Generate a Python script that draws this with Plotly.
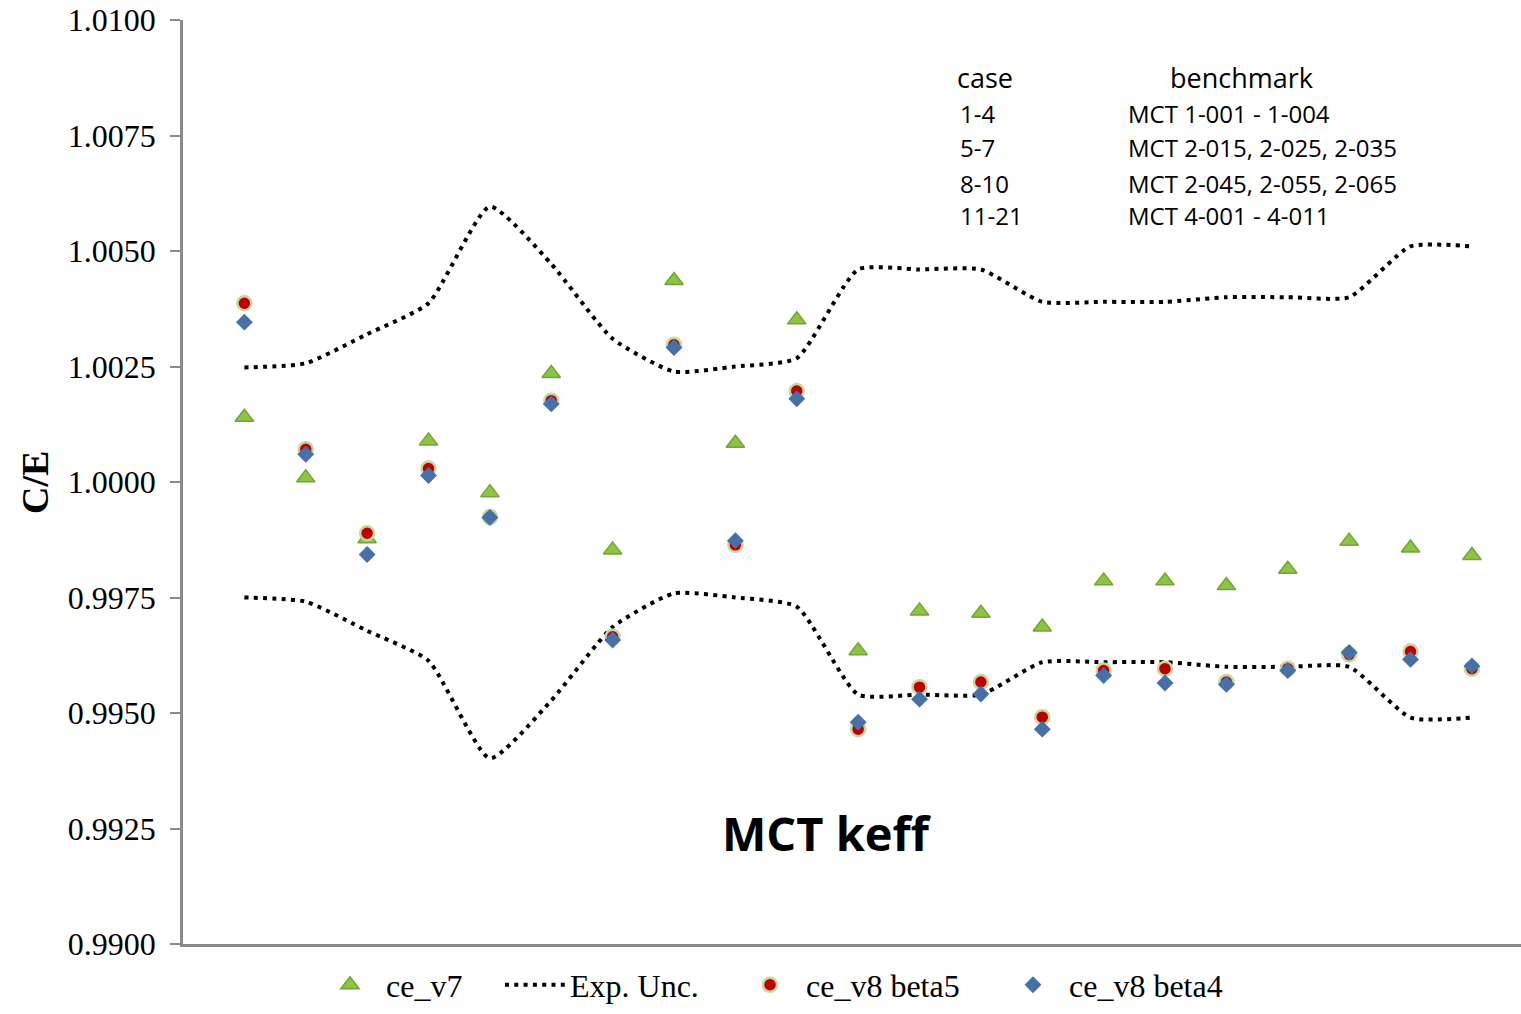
import plotly.graph_objects as go

# Case numbers (MCT benchmark cases)
cases = list(range(1, 22))

# Calculated / experimental keff ratios
ce_v7 = [1.00140, 1.00009, 0.99877, 1.00089, 0.99977, 1.00235, 0.99853,
         1.00436, 1.00084, 1.00351, 0.99635, 0.99721, 0.99716, 0.99686,
         0.99786, 0.99786, 0.99776, 0.99811, 0.99872, 0.99857, 0.99841]

ce_v8_beta5 = [1.00387, 1.00071, 0.99889, 1.00029, 0.99924, 1.00176, 0.99665,
               1.00297, 0.99864, 1.00197, 0.99465, 0.99556, 0.99567, 0.99491,
               0.99592, 0.99596, 0.99567, 0.99596, 0.99627, 0.99633, 0.99596]

ce_v8_beta4 = [1.00346, 1.00060, 0.99843, 1.00014, 0.99923, 1.00169, 0.99658,
               1.00291, 0.99873, 1.00180, 0.99480, 0.99530, 0.99541, 0.99465,
               0.99581, 0.99565, 0.99562, 0.99592, 0.99631, 0.99616, 0.99602]

# Experimental uncertainty band (upper / lower bound)
exp_upper = [1.00248, 1.00257, 1.00320, 1.00387, 1.00596, 1.00472, 1.00310,
             1.00239, 1.00250, 1.00268, 1.00460, 1.00460, 1.00460, 1.00390,
             1.00390, 1.00390, 1.00400, 1.00400, 1.00400, 1.00510, 1.00510]
exp_lower = [0.99750, 0.99741, 0.99678, 0.99613, 0.99402, 0.99527, 0.99686,
             0.99759, 0.99750, 0.99730, 0.99540, 0.99540, 0.99540, 0.99610,
             0.99610, 0.99610, 0.99600, 0.99600, 0.99600, 0.99490, 0.99490]

# Benchmark table text
table_cases = ["1-4", "5-7", "8-10", "11-21"]
table_benchmarks = ["MCT 1-001 - 1-004", "MCT 2-015, 2-025, 2-035",
                    "MCT 2-045, 2-055, 2-065", "MCT 4-001 - 4-011"]

W, H = 1521, 1014
L, R, T, B = 183, 0, 20, 70
PW, PH = W - L - R, H - T - B


def px(x):
    return (x - L) / PW


def py(y):
    return (H - B - y) / PH


SERIF = "Liberation Serif, Times New Roman, serif"
SANS = "Open Sans, sans-serif"

dot_style = dict(color="black", width=4, dash="4px,5.3px", shape="spline", smoothing=0.55)

fig = go.Figure()

fig.add_trace(go.Scatter(
    x=cases, y=ce_v7, mode="markers", name="ce_v7", legend="legend",
    marker=dict(symbol="triangle-up", size=16, color="#8CC640",
                line=dict(color="#76A23A", width=1.5)),
))
fig.add_trace(go.Scatter(
    x=cases, y=exp_upper, mode="lines", name="Exp. Unc.", legend="legend2",
    legendgroup="unc", line=dot_style,
))
fig.add_trace(go.Scatter(
    x=cases, y=exp_lower, mode="lines", name="Exp. Unc.", legend="legend2",
    legendgroup="unc", showlegend=False, line=dot_style,
))
fig.add_trace(go.Scatter(
    x=cases, y=ce_v8_beta5, mode="markers", name="ce_v8 beta5", legend="legend3",
    marker=dict(symbol="circle", size=14, color="#C00000",
                line=dict(color="#C4D79E", width=2.5)),
))
fig.add_trace(go.Scatter(
    x=cases, y=ce_v8_beta4, mode="markers", name="ce_v8 beta4", legend="legend4",
    marker=dict(symbol="diamond", size=13, color="#4571A8", line=dict(width=0)),
))

legend_common = dict(orientation="h", yanchor="middle", y=py(985), xanchor="left",
                     bgcolor="rgba(0,0,0,0)", font=dict(family=SERIF, size=32, color="black"),
                     itemwidth=62, tracegroupgap=0)


def note(x, y, text, size, family=SANS, anchor="left", angle=0):
    return dict(x=px(x), y=py(y), xref="paper", yref="paper", text=text, showarrow=False,
                xanchor=anchor, yanchor="middle", textangle=angle,
                font=dict(family=family, size=size, color="black"))


annotations = [note(955, 77, "case", 27), note(1168, 77, "benchmark", 27)]
row_y = [113, 148, 183, 215]
for c, b, yy in zip(table_cases, table_benchmarks, row_y):
    annotations.append(note(958, yy, c, 24))
    annotations.append(note(1126, yy, b, 24))
annotations.append(note(827, 833, "<b>MCT keff</b>", 47, anchor="center"))
annotations.append(note(35, 483, "<b>C/E</b>", 38, family=SERIF, anchor="center", angle=-90))

fig.update_layout(
    width=W, height=H,
    margin=dict(l=L, r=R, t=T, b=B, pad=0),
    paper_bgcolor="white", plot_bgcolor="white",
    showlegend=True,
    legend=dict(legend_common, x=px(314)),
    legend2=dict(legend_common, x=px(500), itemwidth=60),
    legend3=dict(legend_common, x=px(734)),
    legend4=dict(legend_common, x=px(997)),
    annotations=annotations,
    xaxis=dict(range=[0, 21.8], showticklabels=False, showgrid=False, zeroline=False,
               showline=True, linecolor="#8A8A8A", linewidth=2.5, ticks=""),
    yaxis=dict(range=[0.99, 1.01], dtick=0.0025, tick0=0.99, tickformat=".4f",
               showgrid=False, zeroline=False, showline=True, linecolor="#8A8A8A",
               linewidth=2.5, ticks="outside", ticklen=10, tickcolor="#8A8A8A", tickwidth=2,
               ticklabelstandoff=8,
               tickfont=dict(family=SERIF, size=32, color="black")),
)

fig.write_html("out.html")
